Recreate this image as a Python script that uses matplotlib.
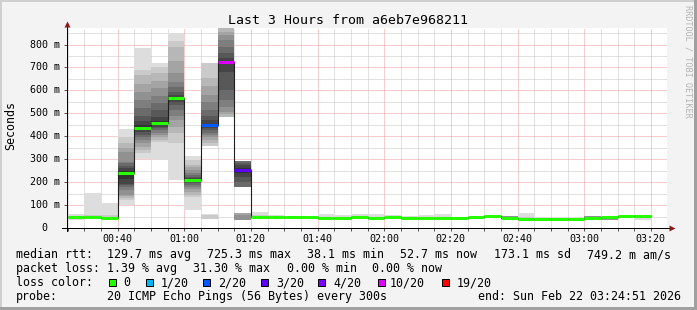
import numpy as np
import matplotlib
matplotlib.use("Agg")
import matplotlib.pyplot as plt
from matplotlib.patches import Rectangle

plt.rcParams['font.family'] = ['DejaVu Sans Mono']

W, H, DPI = 697, 310, 100

# ---------------- data ----------------
title = "Last 3 Hours from a6eb7e968211"
y_label = "Seconds"
side_label = "RRDTOOL / TOBI OETIKER"

# 5-minute bins, start time in minutes after 00:00 (00:25 ... 03:15)
bin_start = list(range(25, 200, 5))

# median rtt per bin (ms)
medians = [48, 49, 45, 241, 437, 456, 567, 209, 449, 724, 253, 48, 48, 47, 47,
           45, 45, 48, 43, 48, 45, 45, 44, 43, 47, 52, 43, 38, 40, 40, 40, 43,
           46, 52, 52]

# loss class per bin (index into loss legend)
loss_class = [0, 0, 0, 0, 0, 0, 0, 0, 2, 5, 3, 0, 0, 0, 0,
              0, 0, 0, 0, 0, 0, 0, 0, 0, 0, 0, 0, 0, 0, 0, 0, 0,
              0, 0, 0]

# sorted ping times per bin (ms) -> smoke
smoke_pings = [
    [35, 42, 52, 60],
    [42, 46, 56, 154],
    [42, 45, 55, 110],
    [100, 122, 130, 138, 144, 165, 180, 187, 192, 215, 250, 262, 272, 282, 289, 330, 348, 370, 398, 431],
    [300, 325, 340, 355, 370, 385, 398, 405, 418, 428, 447, 465, 490, 522, 560, 594, 630, 666, 691, 785],
    [296, 375, 385, 395, 405, 415, 427, 435, 442, 450, 468, 485, 515, 544, 575, 610, 640, 675, 702, 720],
    [209, 370, 413, 440, 470, 490, 514, 535, 550, 560, 572, 580, 594, 615, 637, 675, 730, 790, 816, 851],
    [78, 136, 145, 158, 168, 178, 187, 195, 200, 205, 212, 216, 222, 230, 240, 253, 265, 274, 296, 314],
    [357, 370, 383, 395, 405, 415, 427, 435, 443, 455, 470, 490, 514, 550, 580, 620, 653, 720],
    [485, 495, 506, 528, 557, 601, 680, 715, 730, 740, 761, 790, 819, 840, 855, 870],
    [180, 200, 223, 240, 262, 275, 282, 293],
    [40, 44, 55, 70],
    [44, 46, 52, 56],
    [42, 44, 50, 52],
    [42, 44, 50, 52],
    [40, 43, 50, 60],
    [40, 44, 48, 55],
    [38, 44, 52, 60],
    [38, 40, 47, 60],
    [42, 45, 50, 55],
    [42, 43, 48, 52],
    [40, 43, 50, 57],
    [38, 42, 50, 61],
    [40, 41, 45, 47],
    [44, 45, 49, 51],
    [42, 47, 55, 57],
    [38, 41, 48, 52],
    [36, 40, 50, 65],
    [38, 39, 45, 50],
    [38, 39, 42, 45],
    [38, 39, 42, 45],
    [40, 41, 48, 52],
    [36, 40, 48, 50],
    [48, 50, 54, 56],
    [36, 42, 54, 56],
]
# first smoke shade level per bin (lost pings drop the outer layers)
smoke_start = [0, 0, 0, 0, 0, 0, 0, 0, 1, 2, 6, 0, 0, 0, 0,
               0, 0, 0, 0, 0, 0, 0, 0, 0, 0, 0, 4, 0, 0, 0, 0, 4,
               4, 0, 0]
# detached low smoke clusters: bin index -> (pings, start level)
low_smoke = {8: ([38, 40, 58, 61], 0), 10: ([35, 36, 55, 64], 3)}

loss_labels = ["0", "1/20", "2/20", "3/20", "4/20", "10/20", "19/20"]
loss_colors = ["#26ff00", "#00b8ff", "#0059ff", "#5e00ff", "#7e00ff", "#dd00ff", "#ff0000"]

xtick_pos = [40, 60, 80, 100, 120, 140, 160, 180, 200]
xtick_labels = ["00:40", "01:00", "01:20", "01:40", "02:00", "02:20", "02:40", "03:00", "03:20"]
ytick_pos = [0, 100, 200, 300, 400, 500, 600, 700, 800]
ytick_labels = ["0", "100 m", "200 m", "300 m", "400 m", "500 m", "600 m", "700 m", "800 m"]

legend_rows = [
    [("median rtt:", 16), ("129.7 ms avg", 107.3), ("725.3 ms max", 207.3),
     ("38.1 ms min", 307.3), ("52.7 ms now", 400), ("173.1 ms sd", 494),
     ("749.2 m am/s", 586.7)],
    [("packet loss:", 16), ("1.39 % avg", 107.3), ("31.30 % max", 193.3),
     ("0.00 % min", 286.7), ("0.00 % now", 372.3)],
    [("loss color:", 16)],
    [("probe:", 16), ("20 ICMP Echo Pings (56 Bytes) every 300s", 107.3),
     ("end: Sun Feb 22 03:24:51 2026", 478.3)],
]
legend_box_x = [109, 146, 203.3, 260.7, 318.3, 377.7, 441.7]
legend_lab_x = [123.3, 160.7, 218.3, 276, 333.3, 389.3, 456.7]

# ---------------- figure ----------------
fig = plt.figure(figsize=(W / DPI, H / DPI), dpi=DPI, facecolor='#f3f3f3')
ax = fig.add_axes([67 / W, 1 - 228 / H, 600 / W, 200 / H])
ax.set_facecolor('white')
ax.set_xlim(24.85, 204.85)
ax.set_ylim(0, 872)

STEP = 5


def shade(level):
    g = int(190 / 10 * (10 - level)) + 50
    return '#%02x%02x%02x' % (g, g, g)


def draw_smoke(x0, pings, s):
    p = sorted(pings)
    n = len(p)
    for j in range(n // 2):
        level = s + j + 1
        if level > 10:
            break
        ax.bar(x0, p[n - 1 - j] - p[j], bottom=p[j], width=STEP, align='edge',
               color=shade(level), linewidth=0, zorder=2)


for i, x0 in enumerate(bin_start):
    draw_smoke(x0, smoke_pings[i], smoke_start[i])
    if i in low_smoke:
        draw_smoke(x0, low_smoke[i][0], low_smoke[i][1])

edges = list(bin_start) + [bin_start[-1] + STEP]
ax.stairs(medians, edges, baseline=None, color='#202020', lw=0.8, zorder=3)
ax.hlines(medians, bin_start, [b + STEP for b in bin_start],
          colors=[loss_colors[c] for c in loss_class], lw=2.2, zorder=4)

# grid
ax.set_xticks(xtick_pos)
ax.set_xticklabels(xtick_labels)
ax.set_xticks(list(range(25, 205, 5)), minor=True)
ax.set_yticks(ytick_pos)
ax.set_yticklabels([])
ax.set_yticks(list(range(50, 872, 50)), minor=True)
dot = (0, (1, 1))
ax.grid(which='minor', color='#c4c4c4', linestyle=dot, lw=0.72, zorder=1)
ax.grid(which='major', color='#f09a9a', linestyle=dot, lw=0.72, zorder=1)
ax.set_axisbelow(True)

ax.tick_params(axis='x', which='both', direction='out', length=2, width=0.7,
               color='#555555', pad=2.5, labelsize=7.2)
ax.tick_params(axis='y', which='major', direction='out', length=2.5, width=0.7,
               color='#555555')
ax.tick_params(axis='y', which='minor', length=0)

for s in ['top', 'right']:
    ax.spines[s].set_visible(False)
for s in ['left', 'bottom']:
    ax.spines[s].set_color('black')
    ax.spines[s].set_linewidth(0.72)

# axis extensions and arrows
ax.plot([-5 / 600, 1.0067], [0, 0], transform=ax.transAxes, clip_on=False,
        color='black', lw=0.72, zorder=5)
ax.plot([0, 0], [-3 / 200, 1.02], transform=ax.transAxes, clip_on=False,
        color='black', lw=0.72, zorder=5)
ax.plot([1.0075], [0], marker='>', ms=4.5, color='#8b1a1a', transform=ax.transAxes,
        clip_on=False, zorder=6, mec='none')
ax.plot([0], [1.0215], marker='^', ms=4.5, color='#8b1a1a', transform=ax.transAxes,
        clip_on=False, zorder=6, mec='none')

# y tick labels (right-aligned numbers, unit column)
ytr = ax.get_yaxis_transform()
for v, lab in zip(ytick_pos, ytick_labels):
    if ' ' in lab:
        ax.text(-7 / 600, v, lab, transform=ytr, ha='right', va='center', fontsize=7.2)
    else:
        ax.text(-19.5 / 600, v, lab, transform=ytr, ha='right', va='center', fontsize=7.2)

# titles
fig.text(347.5 / W, 1 - 24 / H, title, ha='center', va='baseline', fontsize=9.5)
fig.text(11 / W, 1 - 125 / H, y_label, rotation=90, ha='center', va='center', fontsize=8.4)
fig.text(688 / W, 1 - 61 / H, side_label, rotation=-90, ha='center', va='center',
         fontsize=6.1, color='#b4b4b4')

# legend
baselines = [258, 272, 286, 300]
for row, yb in zip(legend_rows, baselines):
    for txt, x in row:
        fig.text(x / W, 1 - yb / H, txt, ha='left', va='baseline', fontsize=8.4)
for bx, lx, lab, col in zip(legend_box_x, legend_lab_x, loss_labels, loss_colors):
    fig.add_artist(Rectangle((bx / W, 1 - 286 / H), 7 / W, 7 / H, transform=fig.transFigure,
                             facecolor=col, edgecolor='black', lw=0.72))
    fig.text(lx / W, 1 - 286 / H, lab, ha='left', va='baseline', fontsize=8.4)

# frame
fig.add_artist(Rectangle((0, 1 - 2 / H), 1, 2 / H, transform=fig.transFigure,
                         facecolor='#cfcfcf', edgecolor='none'))
fig.add_artist(Rectangle((0, 0), 2 / W, 1, transform=fig.transFigure,
                         facecolor='#cfcfcf', edgecolor='none'))
fig.add_artist(Rectangle((0, 0), 1, 3 / H, transform=fig.transFigure,
                         facecolor='#a0a0a0', edgecolor='none'))
fig.add_artist(Rectangle((1 - 3 / W, 0), 3 / W, 1, transform=fig.transFigure,
                         facecolor='#a0a0a0', edgecolor='none'))

fig.savefig('out.png', dpi=DPI, facecolor=fig.get_facecolor())
